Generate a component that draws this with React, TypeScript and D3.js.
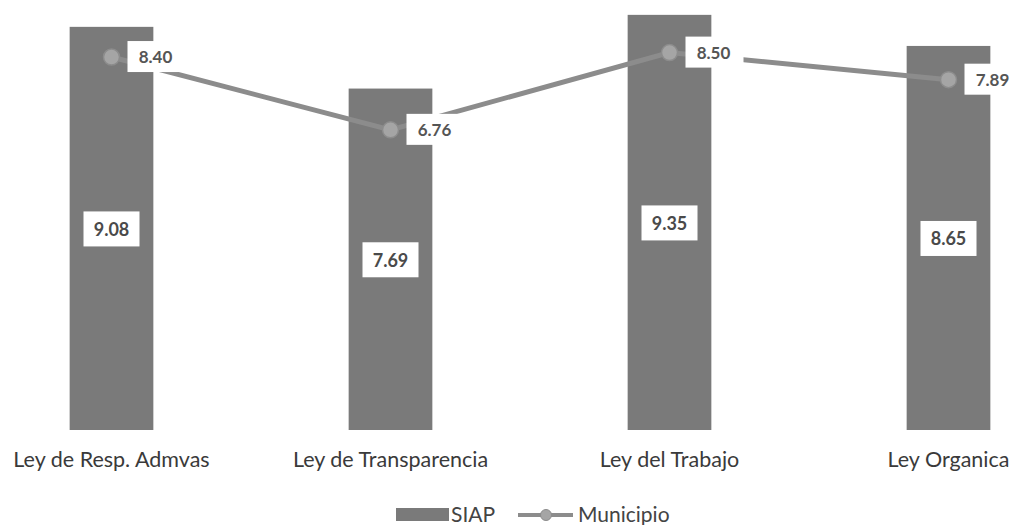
import React from 'react';
import * as d3 from 'd3';

const categories = ['Ley de Resp. Admvas', 'Ley de Transparencia', 'Ley del Trabajo', 'Ley Organica'];
const siap = [9.08, 7.69, 9.35, 8.65];
const municipio = [8.40, 6.76, 8.50, 7.89];
const seriesNames = ['SIAP', 'Municipio'];

const W = 1011;
const H = 525;

export default function App() {
  const x = d3.scaleBand<string>()
    .domain(categories)
    .range([-28, 1088])
    .paddingInner(0.7)
    .paddingOuter(0.35);
  const y = d3.scaleLinear().domain([0, 10]).range([430, -14]);
  const bw = x.bandwidth();
  const cx = (c: string) => (x(c) as number) + bw / 2;

  const line = d3.line<number>()
    .x((d, i) => cx(categories[i]))
    .y(d => y(d));

  const font = 'Lato, "Open Sans", sans-serif';

  return (
    <svg width={W} height={H} style={{ position: 'absolute', left: 0, top: 0, background: '#fff' }}>
      {categories.map((c, i) => (
        <rect key={c} x={x(c)} y={y(siap[i])} width={bw} height={y(0) - y(siap[i])} fill="#7a7a7a" />
      ))}
      {categories.map((c, i) => {
        const my = (y(siap[i]) + y(0)) / 2;
        return (
          <g key={'bl' + c}>
            <rect x={cx(c) - 28} y={my - 17} width={56} height={35} fill="#fff" />
            <text x={cx(c)} y={my + 1} dy="0.35em" textAnchor="middle" fontFamily={font}
              fontSize={18} fontWeight="bold" fill="#4a4a4a">{siap[i].toFixed(2)}</text>
          </g>
        );
      })}
      <path d={line(municipio) || ''} fill="none" stroke="#8c8c8c" strokeWidth={5} />
      {categories.map((c, i) => (
        <circle key={'pt' + c} cx={cx(c)} cy={y(municipio[i])} r={8} fill="#a5a5a5" stroke="#8c8c8c" strokeWidth={1.5} />
      ))}
      {categories.map((c, i) => {
        const py = y(municipio[i]);
        return (
          <g key={'ml' + c}>
            <rect x={cx(c) + 16} y={py - 16} width={58} height={31} fill="#fff" />
            <text x={cx(c) + 44} y={py} dy="0.35em" textAnchor="middle" fontFamily={font}
              fontSize={17} fontWeight="bold" fill="#555">{municipio[i].toFixed(2)}</text>
          </g>
        );
      })}
      {categories.map(c => (
        <text key={'cl' + c} x={cx(c)} y={467} textAnchor="middle" fontFamily={font}
          fontSize={21.5} fill="#3a3a3a">{c}</text>
      ))}
      <g fontFamily={font} fontSize={21} fill="#444">
        <rect x={396} y={508} width={53} height={13} fill="#7a7a7a" />
        <text x={451} y={522}>{seriesNames[0]}</text>
        <line x1={518} x2={573} y1={515} y2={515} stroke="#8c8c8c" strokeWidth={4} />
        <circle cx={546} cy={515} r={5.5} fill="#a5a5a5" stroke="#8c8c8c" />
        <text x={578} y={522}>{seriesNames[1]}</text>
      </g>
    </svg>
  );
}
